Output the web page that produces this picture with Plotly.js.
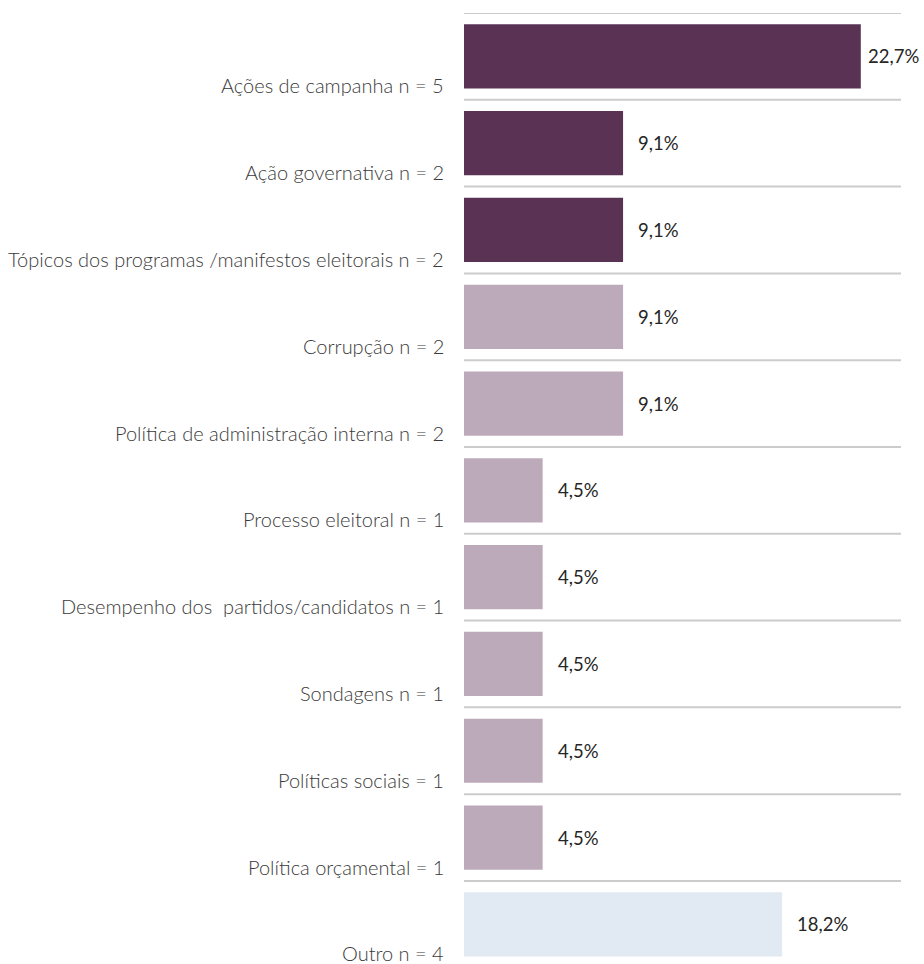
<!DOCTYPE html>
<html>
<head>
<meta charset="utf-8">
<script src="https://cdn.plot.ly/plotly-3.0.1.min.js"></script>
<style>html,body{margin:0;padding:0;background:#fff;}#chart{width:924px;height:964px;}</style>
</head>
<body>
<div id="chart"></div>
<script>
const categories = [
  "Ações de campanha n = 5",
  "Ação governativa n = 2",
  "Tópicos dos programas /manifestos eleitorais n = 2",
  "Corrupção n = 2",
  "Política de administração interna n = 2",
  "Processo eleitoral n = 1",
  "Desempenho dos  partidos/candidatos n = 1",
  "Sondagens n = 1",
  "Políticas sociais = 1",
  "Política orçamental = 1",
  "Outro n = 4"
];
const values = [22.7, 9.1, 9.1, 9.1, 9.1, 4.5, 4.5, 4.5, 4.5, 4.5, 18.2];
const valueLabels = ["22,7%", "9,1%", "9,1%", "9,1%", "9,1%", "4,5%", "4,5%", "4,5%", "4,5%", "4,5%", "18,2%"];
const groups = ["dark", "dark", "dark", "light", "light", "light", "light", "light", "light", "light", "other"];

const groupColors = { dark: "#5a3254", light: "#bcaabb", other: "#e1e9f3" };
const FONT = "Lato, 'Open Sans', sans-serif";

const trace = {
  type: "bar",
  orientation: "h",
  y: categories,
  x: values,
  width: 0.74,
  marker: { color: groups.map(g => groupColors[g]) },
  hoverinfo: "skip"
};

const shapes = [];
for (let i = 0; i < categories.length; i++) {
  shapes.push({
    type: "line", xref: "paper", yref: "y",
    x0: 0, x1: 1, y0: i - 0.5, y1: i - 0.5,
    line: { color: "#cccccc", width: 2 }, layer: "below"
  });
}

const annotations = [];
categories.forEach((c, i) => {
  annotations.push({
    xref: "paper", yref: "y", x: 0, y: c,
    text: c, showarrow: false, xanchor: "right", yanchor: "middle",
    xshift: -18, yshift: -29,
    font: { family: FONT, size: 20, weight: 300, color: "#3a3a3a" }
  });
  annotations.push({
    xref: "x", yref: "y", x: values[i], y: c,
    text: valueLabels[i], showarrow: false, xanchor: "left", yanchor: "middle",
    xshift: values[i] > 20 ? 5 : 13,
    font: { family: FONT, size: 18.5, weight: 400, color: "#262626" }
  });
});

const layout = {
  width: 924, height: 964,
  margin: { l: 464, r: 23, t: 13, b: 0, pad: 0 },
  paper_bgcolor: "#ffffff", plot_bgcolor: "#ffffff",
  showlegend: false,
  xaxis: { range: [0, 25], visible: false, fixedrange: true },
  yaxis: {
    type: "category", range: [10.457, -0.5],
    showticklabels: false, showgrid: false, zeroline: false, showline: false, ticks: "",
    fixedrange: true
  },
  shapes: shapes,
  annotations: annotations,
  font: { family: FONT }
};

Plotly.newPlot("chart", [trace], layout, { displayModeBar: false, staticPlot: true });
</script>
</body>
</html>
